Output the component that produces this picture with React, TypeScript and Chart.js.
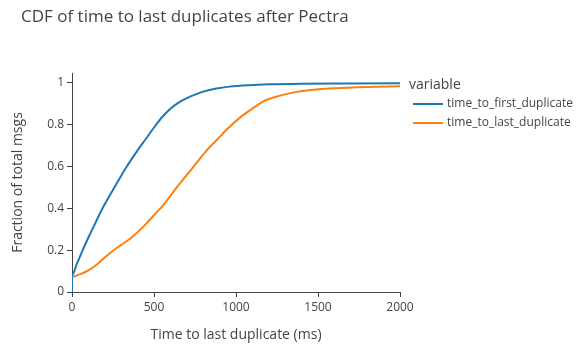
import React, { useEffect, useRef } from "react";
import { Chart, registerables } from "chart.js";

Chart.register(...registerables);

const titleText = "CDF of time to last duplicates after Pectra";
const xAxisTitle = "Time to last duplicate (ms)";
const yAxisTitle = "Fraction of total msgs";
const legendTitle = "variable";
const seriesNames = ["time_to_first_duplicate", "time_to_last_duplicate"];
const seriesColors = ["#1f77b4", "#ff7f0e"];

// time_to_first_duplicate (ms, fraction)
const firstX = [0, 0, 30, 60, 100, 140, 180, 230, 280, 330, 400, 450, 500, 550, 600, 650, 700, 750, 800, 880, 960, 1080, 1200, 1400, 1700, 2000];
const firstY = [0, 0.08, 0.135, 0.19, 0.26, 0.325, 0.39, 0.46, 0.528, 0.594, 0.676, 0.73, 0.785, 0.835, 0.875, 0.904, 0.925, 0.942, 0.956, 0.971, 0.98, 0.987, 0.991, 0.994, 0.995, 0.996];

// time_to_last_duplicate (ms, fraction)
const lastX = [0, 0, 50, 100, 150, 200, 250, 300, 360, 420, 463, 510, 557, 640, 740, 820, 882, 950, 1024, 1100, 1167, 1250, 1370, 1500, 1600, 1800, 2000];
const lastY = [0, 0.073, 0.085, 0.103, 0.13, 0.165, 0.197, 0.225, 0.258, 0.3, 0.335, 0.375, 0.415, 0.5, 0.597, 0.675, 0.725, 0.78, 0.832, 0.875, 0.91, 0.933, 0.955, 0.967, 0.972, 0.978, 0.982];

const xTicks = [0, 500, 1000, 1500, 2000];
const yTicks = [0, 0.2, 0.4, 0.6, 0.8, 1];

const FONT = '"Open Sans", "Liberation Sans", sans-serif';
const TEXT = "#444";

export default function App() {
  const ref = useRef<HTMLCanvasElement>(null);

  useEffect(() => {
    if (!ref.current) return;
    const toPts = (xs: number[], ys: number[]) => xs.map((x, i) => ({ x, y: ys[i] }));

    const overlay = {
      id: "overlay",
      afterDraw(chart: any) {
        const ctx = chart.ctx;
        const area = chart.chartArea;
        ctx.save();
        ctx.fillStyle = TEXT;
        ctx.textBaseline = "middle";
        ctx.font = `17px ${FONT}`;
        ctx.textAlign = "left";
        ctx.fillText(titleText, 21, 17);
        ctx.font = `14px ${FONT}`;
        ctx.textAlign = "center";
        ctx.fillText(xAxisTitle, (area.left + area.right) / 2, 335);
        ctx.save();
        ctx.translate(18, (area.top + area.bottom) / 2);
        ctx.rotate(-Math.PI / 2);
        ctx.fillText(yAxisTitle, 0, 0);
        ctx.restore();
        ctx.textAlign = "left";
        ctx.font = `14px ${FONT}`;
        ctx.fillText(legendTitle, 409, 85);
        ctx.font = `12px ${FONT}`;
        const ys = [104, 123];
        seriesNames.forEach((n, i) => {
          ctx.strokeStyle = seriesColors[i];
          ctx.lineWidth = 2;
          ctx.beginPath();
          ctx.moveTo(413, ys[i]);
          ctx.lineTo(443, ys[i]);
          ctx.stroke();
          ctx.fillStyle = TEXT;
          ctx.fillText(n, 447, ys[i]);
        });
        ctx.restore();
      },
    };

    const chart = new Chart(ref.current, {
      type: "line",
      data: {
        datasets: [
          {
            label: seriesNames[0],
            data: toPts(firstX, firstY),
            borderColor: seriesColors[0],
            backgroundColor: seriesColors[0],
            borderWidth: 2,
            pointRadius: 0,
            cubicInterpolationMode: "monotone",
          },
          {
            label: seriesNames[1],
            data: toPts(lastX, lastY),
            borderColor: seriesColors[1],
            backgroundColor: seriesColors[1],
            borderWidth: 2,
            pointRadius: 0,
            cubicInterpolationMode: "monotone",
          },
        ],
      },
      options: {
        responsive: false,
        animation: false,
        layout: { padding: { left: 0, top: 73, right: 182, bottom: 0 } },
        plugins: {
          legend: { display: false },
          title: { display: false },
          tooltip: { enabled: false },
        },
        scales: {
          x: {
            type: "linear",
            min: 0,
            max: 2000,
            afterFit(scale: any) {
              scale.height = 68;
            },
            afterBuildTicks(scale: any) {
              scale.ticks = xTicks.map((v) => ({ value: v }));
            },
            grid: { drawOnChartArea: false, drawTicks: true, tickLength: 5, color: TEXT, lineWidth: 1 },
            border: { display: true, color: TEXT, width: 1 },
            ticks: {
              color: TEXT,
              font: { family: FONT, size: 12 },
              padding: 3,
              maxRotation: 0,
              callback: (v: any) => String(v),
            },
          },
          y: {
            type: "linear",
            min: 0,
            max: 1.045,
            afterFit(scale: any) {
              scale.width = 72;
            },
            afterBuildTicks(scale: any) {
              scale.ticks = yTicks.map((v) => ({ value: v }));
            },
            grid: { drawOnChartArea: false, drawTicks: true, tickLength: 5, color: TEXT, lineWidth: 1 },
            border: { display: true, color: TEXT, width: 1 },
            ticks: {
              color: TEXT,
              font: { family: FONT, size: 12 },
              padding: 3,
              callback: (v: any) => String(Math.round(v * 10) / 10),
            },
          },
        },
      },
      plugins: [overlay],
    });
    return () => chart.destroy();
  }, []);

  return (
    <div style={{ position: "absolute", left: 0, top: 0, width: 582, height: 360, background: "#fff" }}>
      <canvas ref={ref} width={582} height={360} style={{ display: "block" }} />
    </div>
  );
}
